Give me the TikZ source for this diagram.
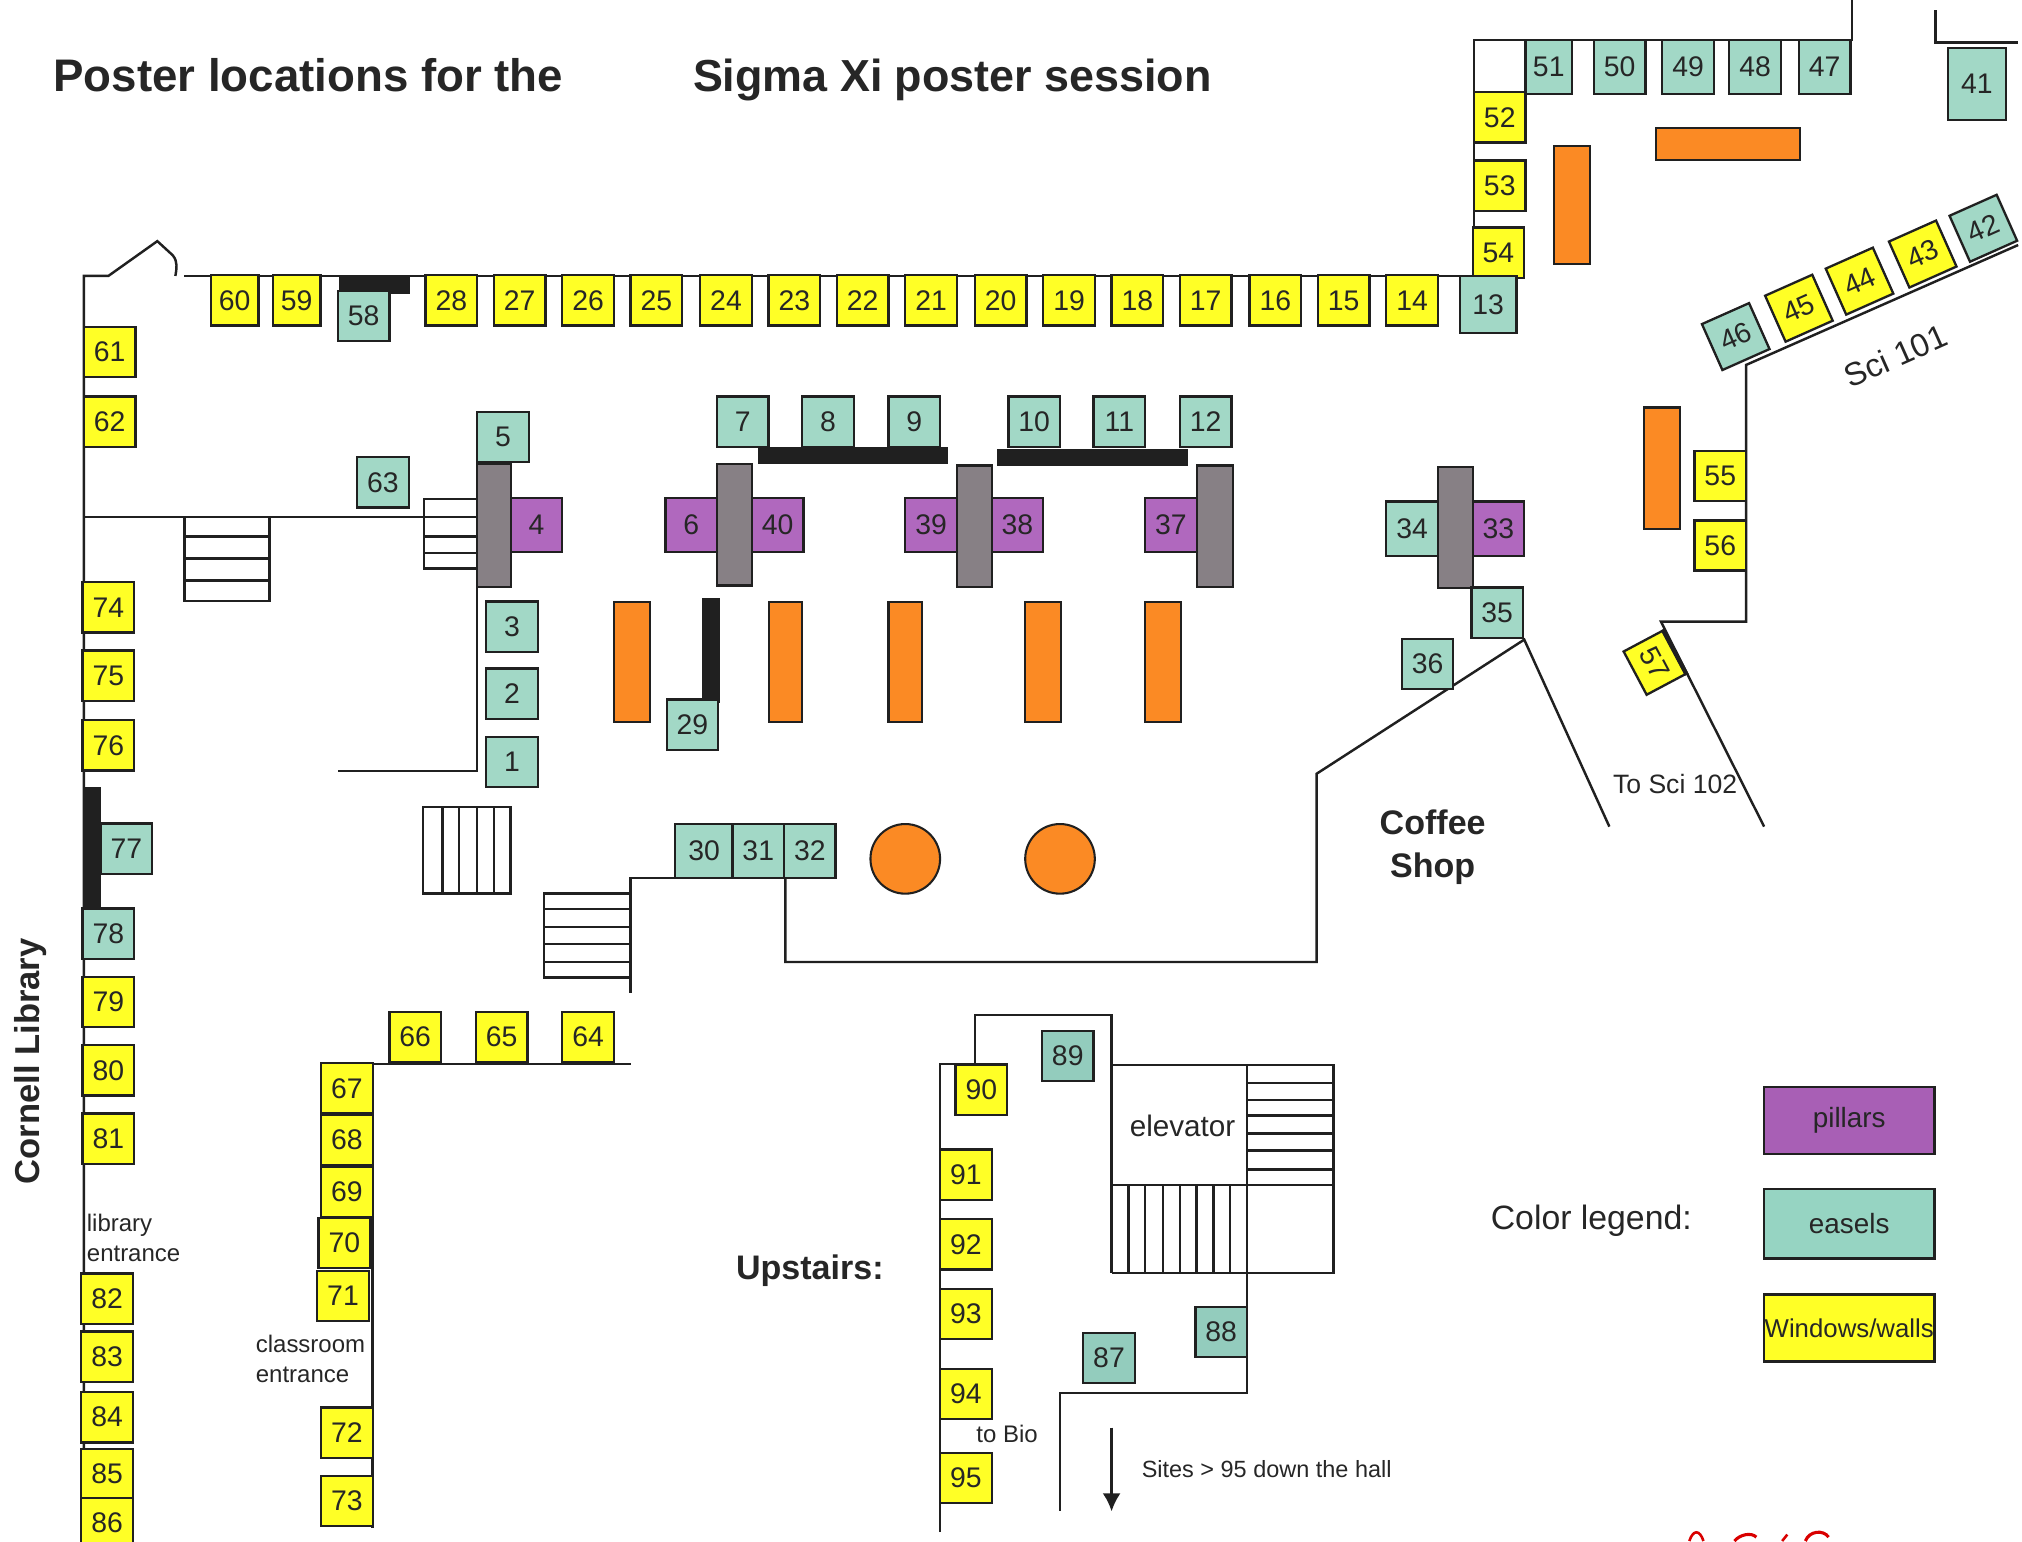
\documentclass[tikz,border=0pt]{standalone}
\usepackage{fontspec}
\setmainfont{Liberation Sans}
\usetikzlibrary{arrows.meta}
\definecolor{winyel}{HTML}{FFFF26}
\definecolor{easteal}{HTML}{A2D8C6}
\definecolor{legteal}{HTML}{96D4C2}
\definecolor{uppteal}{HTML}{93CCBD}
\definecolor{pilpur}{HTML}{B068BE}
\definecolor{legpur}{HTML}{A85FB5}
\definecolor{pilgry}{HTML}{878085}
\definecolor{tblorg}{HTML}{FB8A24}
\definecolor{linedk}{HTML}{202020}
\begin{document}
\begin{tikzpicture}[x=0.5pt, y=-0.5pt,
    site/.style={draw=linedk, line width=0.9pt, inner sep=0pt, minimum width=20pt, minimum height=19.5pt,
      font=\fontsize{11}{13}\selectfont, text=black!85},
    win/.style={site, fill=winyel},
    eas/.style={site, fill=easteal},
    upp/.style={site, fill=uppteal},
    pil/.style={site, fill=pilpur},
    wall/.style={draw=linedk, line width=0.95pt},
    post/.style={draw=linedk, line width=0.9pt, fill=pilgry},
    tbl/.style={draw=linedk, line width=0.8pt, fill=tblorg},
    bar/.style={fill=linedk},
    lbl/.style={inner sep=0pt, font=\fontsize{9.3}{11.5}\selectfont, text=black!85},
    head/.style={inner sep=0pt, font=\fontsize{17.4}{20}\selectfont\bfseries, text=black!85},
    bold/.style={inner sep=0pt, font=\fontsize{13.2}{16.5}\selectfont\bfseries, text=black!85, align=center},
    leg/.style={draw=linedk, line width=1pt, inner sep=0pt, minimum width=66pt,
      font=\fontsize{10.8}{13}\selectfont, text=black!85}
  ]
  \useasboundingbox (0,0) rectangle (1568,1195);
  % walls, upper floor
  \draw[wall] (65,1195) -- (65,214) -- (84,214) -- (122,187) -- (134,198) .. controls (138,203) and (137,208) .. (136,214);
  \draw[wall] (143,214) -- (1143,214) -- (1143,31) -- (1436,31) -- (1436,0);
  \draw[wall] (1501,8) -- (1501,33) -- (1565,33);
  \draw[wall] (65,401) -- (370,401);
  \draw[wall] (370,455) -- (370,598) -- (262,598);
  \draw[wall] (489,770) -- (489,681) -- (524,681);
  \draw[wall] (609,681) -- (609,746) -- (1021,746) -- (1021,600) -- (1182,496) -- (1248,641);
  \draw[wall] (1565,190) -- (1354,283) -- (1354,482) -- (1288,482) -- (1368,641);
  \draw[wall] (489,825) -- (289,825) -- (289,1185);
  % walls, upstairs
  \draw[wall] (729,1188) -- (729,825) -- (756,825) -- (756,787) -- (862,787) -- (862,987);
  \draw[wall] (862,826) -- (1034,826) -- (1034,987) -- (862,987);
  \draw[wall] (967,826) -- (967,1080) -- (822,1080) -- (822,1172);
  \draw[wall] (862,919) -- (1034,919);
  % stairs
  \draw[wall] (143,401) rectangle (209,466);
  \draw[wall] (143,416) -- (209,416) (143,433) -- (209,433) (143,450) -- (209,450);
  \draw[wall] (329,387) rectangle (370,441);
  \draw[wall] (329,401) -- (370,401) (329,416) -- (370,416) (329,429) -- (370,429);
  \draw[wall] (328,626) rectangle (396,693);
  \draw[wall] (343,626) -- (343,693) (356,626) -- (356,693) (370,626) -- (370,693) (383,626) -- (383,693);
  \draw[wall] (422,693) rectangle (489,758);
  \draw[wall] (422,705) -- (489,705) (422,719) -- (489,719) (422,732) -- (489,732) (422,746) -- (489,746);
  \draw[wall] (967,840) -- (1034,840) (967,853) -- (1034,853) (967,865) -- (1034,865) (967,879) -- (1034,879)
    (967,892) -- (1034,892) (967,907) -- (1034,907);
  \draw[wall] (875,919) -- (875,987) (888,919) -- (888,987) (902,919) -- (902,987) (915,919) -- (915,987)
    (928,919) -- (928,987) (941,919) -- (941,987) (954,919) -- (954,987);
  % tables
  \draw[tbl] (476,467) rectangle (504,560);
  \draw[tbl] (596,467) rectangle (622,560);
  \draw[tbl] (689,467) rectangle (715,560);
  \draw[tbl] (795,467) rectangle (823,560);
  \draw[tbl] (888,467) rectangle (916,560);
  \draw[tbl] (1205,113) rectangle (1233,205);
  \draw[tbl] (1284,99) rectangle (1396,124);
  \draw[tbl] (1275,316) rectangle (1303,410);
  \draw[tbl] (702,666) circle [radius=27];
  \draw[tbl] (822,666) circle [radius=27];
  % dark bars
  \fill[bar] (263,214) rectangle (318,228);
  \fill[bar] (65,610) rectangle (78,703);
  \fill[bar] (588,347) rectangle (735,360);
  \fill[bar] (773,348) rectangle (921,361);
  \fill[bar] (544,464) rectangle (558,545);
  % sites along the top wall
  \node[win, minimum width=18.5pt] (s60) at (182,233) {60};
  \node[win, minimum width=18.5pt] (s59) at (230,233) {59};
  \node[eas] (s58) at (282,245) {58};
  \node[win] (s28) at (350,233) {28};
  \node[win] (s27) at (403,233) {27};
  \node[win] (s26) at (456,233) {26};
  \node[win] (s25) at (509,233) {25};
  \node[win] (s24) at (563,233) {24};
  \node[win] (s23) at (616,233) {23};
  \node[win] (s22) at (669,233) {22};
  \node[win] (s21) at (722,233) {21};
  \node[win] (s20) at (776,233) {20};
  \node[win] (s19) at (829,233) {19};
  \node[win] (s18) at (882,233) {18};
  \node[win] (s17) at (935,233) {17};
  \node[win] (s16) at (989,233) {16};
  \node[win] (s15) at (1042,233) {15};
  \node[win] (s14) at (1095,233) {14};
  \node[win] (s54) at (1162,196) {54};
  \node[eas, minimum width=22pt, minimum height=22pt] (s13) at (1154,236) {13};
  \node[win] (s52) at (1163,91) {52};
  \node[win] (s53) at (1163,144) {53};
  \node[eas, minimum width=18pt, minimum height=21pt] (s51) at (1201,52) {51};
  \node[eas, minimum height=21pt] (s50) at (1256,52) {50};
  \node[eas, minimum height=21pt] (s49) at (1309,52) {49};
  \node[eas, minimum height=21pt] (s48) at (1361,52) {48};
  \node[eas, minimum height=21pt] (s47) at (1415,52) {47};
  \node[eas, minimum width=22.5pt, minimum height=28pt] (s41) at (1533,65) {41};
  \node[eas, rotate=24] (s46) at (1346,261) {46};
  \node[win, rotate=24] (s45) at (1395,239) {45};
  \node[win, rotate=24] (s44) at (1442,218) {44};
  \node[win, rotate=24] (s43) at (1491,197) {43};
  \node[eas, rotate=24] (s42) at (1538,177) {42};
  % left wall
  \node[win] (s61) at (85,273) {61};
  \node[win] (s62) at (85,327) {62};
  \node[win] (s74) at (84,471) {74};
  \node[win] (s75) at (84,524) {75};
  \node[win] (s76) at (84,578) {76};
  \node[eas] (s77) at (98,658) {77};
  \node[eas] (s78) at (84,724) {78};
  \node[win] (s79) at (84,777) {79};
  \node[win] (s80) at (84,830) {80};
  \node[win] (s81) at (84,883) {81};
  \node[win] (s82) at (83,1007) {82};
  \node[win] (s83) at (83,1052) {83};
  \node[win] (s84) at (83,1099) {84};
  \node[win] (s85) at (83,1143) {85};
  \node[win] (s86) at (83,1181) {86};
  % centre of the hall
  \node[eas] (s63) at (297,374) {63};
  \node[pil, minimum height=21pt] (s4) at (416,407) {4};
  \draw[post] (370,360) rectangle (396,455);
  \node[eas] (s5) at (390,339) {5};
  \node[eas] (s3) at (397,486) {3};
  \node[eas] (s2) at (397,538) {2};
  \node[eas] (s1) at (397,591) {1};
  \node[eas] (s7) at (576,327) {7};
  \node[eas] (s8) at (642,327) {8};
  \node[eas] (s9) at (709,327) {9};
  \node[eas] (s10) at (802,327) {10};
  \node[eas] (s11) at (868,327) {11};
  \node[eas] (s12) at (935,327) {12};
  \node[pil, minimum height=21pt] (s6) at (536,407) {6};
  \node[pil, minimum height=21pt] (s40) at (603,407) {40};
  \draw[post] (556,360) rectangle (583,454);
  \node[pil, minimum height=21pt] (s39) at (722,407) {39};
  \node[pil, minimum height=21pt] (s38) at (789,407) {38};
  \draw[post] (742,361) rectangle (769,455);
  \node[pil, minimum height=21pt] (s37) at (908,407) {37};
  \draw[post] (928,361) rectangle (956,455);
  \node[eas, minimum height=21pt] (s34) at (1095,410) {34};
  \node[pil, minimum height=21pt] (s33) at (1162,410) {33};
  \draw[post] (1115,362) rectangle (1142,456);
  \node[eas] (s35) at (1161,475) {35};
  \node[eas] (s36) at (1107,515) {36};
  \node[eas] (s29) at (537,562) {29};
  \node[eas, minimum width=22.5pt, minimum height=21pt] (s30) at (546,660) {30};
  \node[eas, minimum height=21pt] (s31) at (588,660) {31};
  \node[eas, minimum height=21pt] (s32) at (628,660) {32};
  \node[win] (s55) at (1334,369) {55};
  \node[win] (s56) at (1334,423) {56};
  \node[win, rotate=-62, minimum width=19pt, minimum height=17pt] (s57) at (1283,514) {57};
  \draw[wall, line width=1.5pt] (s57.north west) -- (s57.north east);
  % classroom corner
  \node[win] (s66) at (322,804) {66};
  \node[win] (s65) at (389,804) {65};
  \node[win] (s64) at (456,804) {64};
  \node[win] (s67) at (269,844) {67};
  \node[win] (s68) at (269,884) {68};
  \node[win] (s69) at (269,924) {69};
  \node[win] (s70) at (267,964) {70};
  \node[win] (s71) at (266,1005) {71};
  \node[win] (s72) at (269,1111) {72};
  \node[win] (s73) at (269,1164) {73};
  % upstairs
  \node[win] (s90) at (761,845) {90};
  \node[upp] (s89) at (828,819) {89};
  \node[win] (s91) at (749,911) {91};
  \node[win] (s92) at (749,965) {92};
  \node[win] (s93) at (749,1019) {93};
  \node[win] (s94) at (749,1081) {94};
  \node[win] (s95) at (749,1146) {95};
  \node[upp] (s88) at (947,1033) {88};
  \node[upp] (s87) at (860,1053) {87};
  % texts
  \node[head, anchor=west, font=\fontsize{17.7}{20}\selectfont\bfseries] (title1) at (41,58) {Poster locations for the};
  \node[head, anchor=west] (title2) at (537,62) {Sigma Xi poster session};
  \node[bold, rotate=90, font=\fontsize{13.4}{16}\selectfont\bfseries] (library) at (24,823) {Cornell Library};
  \node[lbl, anchor=west, align=left] (libent) at (67,960) {library\\entrance};
  \node[lbl, anchor=west, align=left] (clsent) at (198,1054) {classroom\\entrance};
  \node[bold] (coffee) at (1111,657) {Coffee\\Shop};
  \node[lbl, rotate=24, font=\fontsize{12.6}{14}\selectfont] (sci101) at (1470,276) {Sci 101};
  \node[lbl, font=\fontsize{10.3}{12}\selectfont] (sci102) at (1299,608) {To Sci 102};
  \node[bold] (upstairs) at (628,985) {Upstairs:};
  \node[lbl, font=\fontsize{11.5}{14}\selectfont] (elevator) at (917,873) {elevator};
  \node[lbl] (tobio) at (781,1112) {to Bio};
  \node[lbl, anchor=west, font=\fontsize{9.1}{11}\selectfont] (sites) at (885,1139) {Sites > 95 down the hall};
  \coordinate (arrtop) at (862,1107);
  \coordinate (arrend) at (862,1172);
  \draw[wall, -{Latex[length=7pt, width=7pt]}] (arrtop) -- (arrend);
  % legend
  \node[lbl, font=\fontsize{13.1}{15}\selectfont] (legtitle) at (1234,947) {Color legend:};
  \node[leg, fill=legpur, minimum height=26pt] (legpil) at (1434,869) {pillars};
  \node[leg, fill=legteal, minimum height=27pt] (legeas) at (1434,949) {easels};
  \node[leg, fill=winyel, minimum height=26pt, font=\fontsize{10}{13}\selectfont] (legwin) at (1434,1030) {Windows/walls};
  % pen marks at the foot of the page
  \draw[red!85!black, line width=1pt] (1310,1195) .. controls (1313,1186) and (1318,1186) .. (1321,1195);
  \draw[red!85!black, line width=1.2pt] (1345,1195) .. controls (1349,1190) and (1358,1188) .. (1362,1192);
  \draw[red!85!black, line width=1pt] (1382,1195) -- (1386,1190);
  \draw[red!85!black, line width=1.2pt] (1400,1195) .. controls (1403,1187) and (1414,1186) .. (1418,1192);
\end{tikzpicture}
\end{document}
